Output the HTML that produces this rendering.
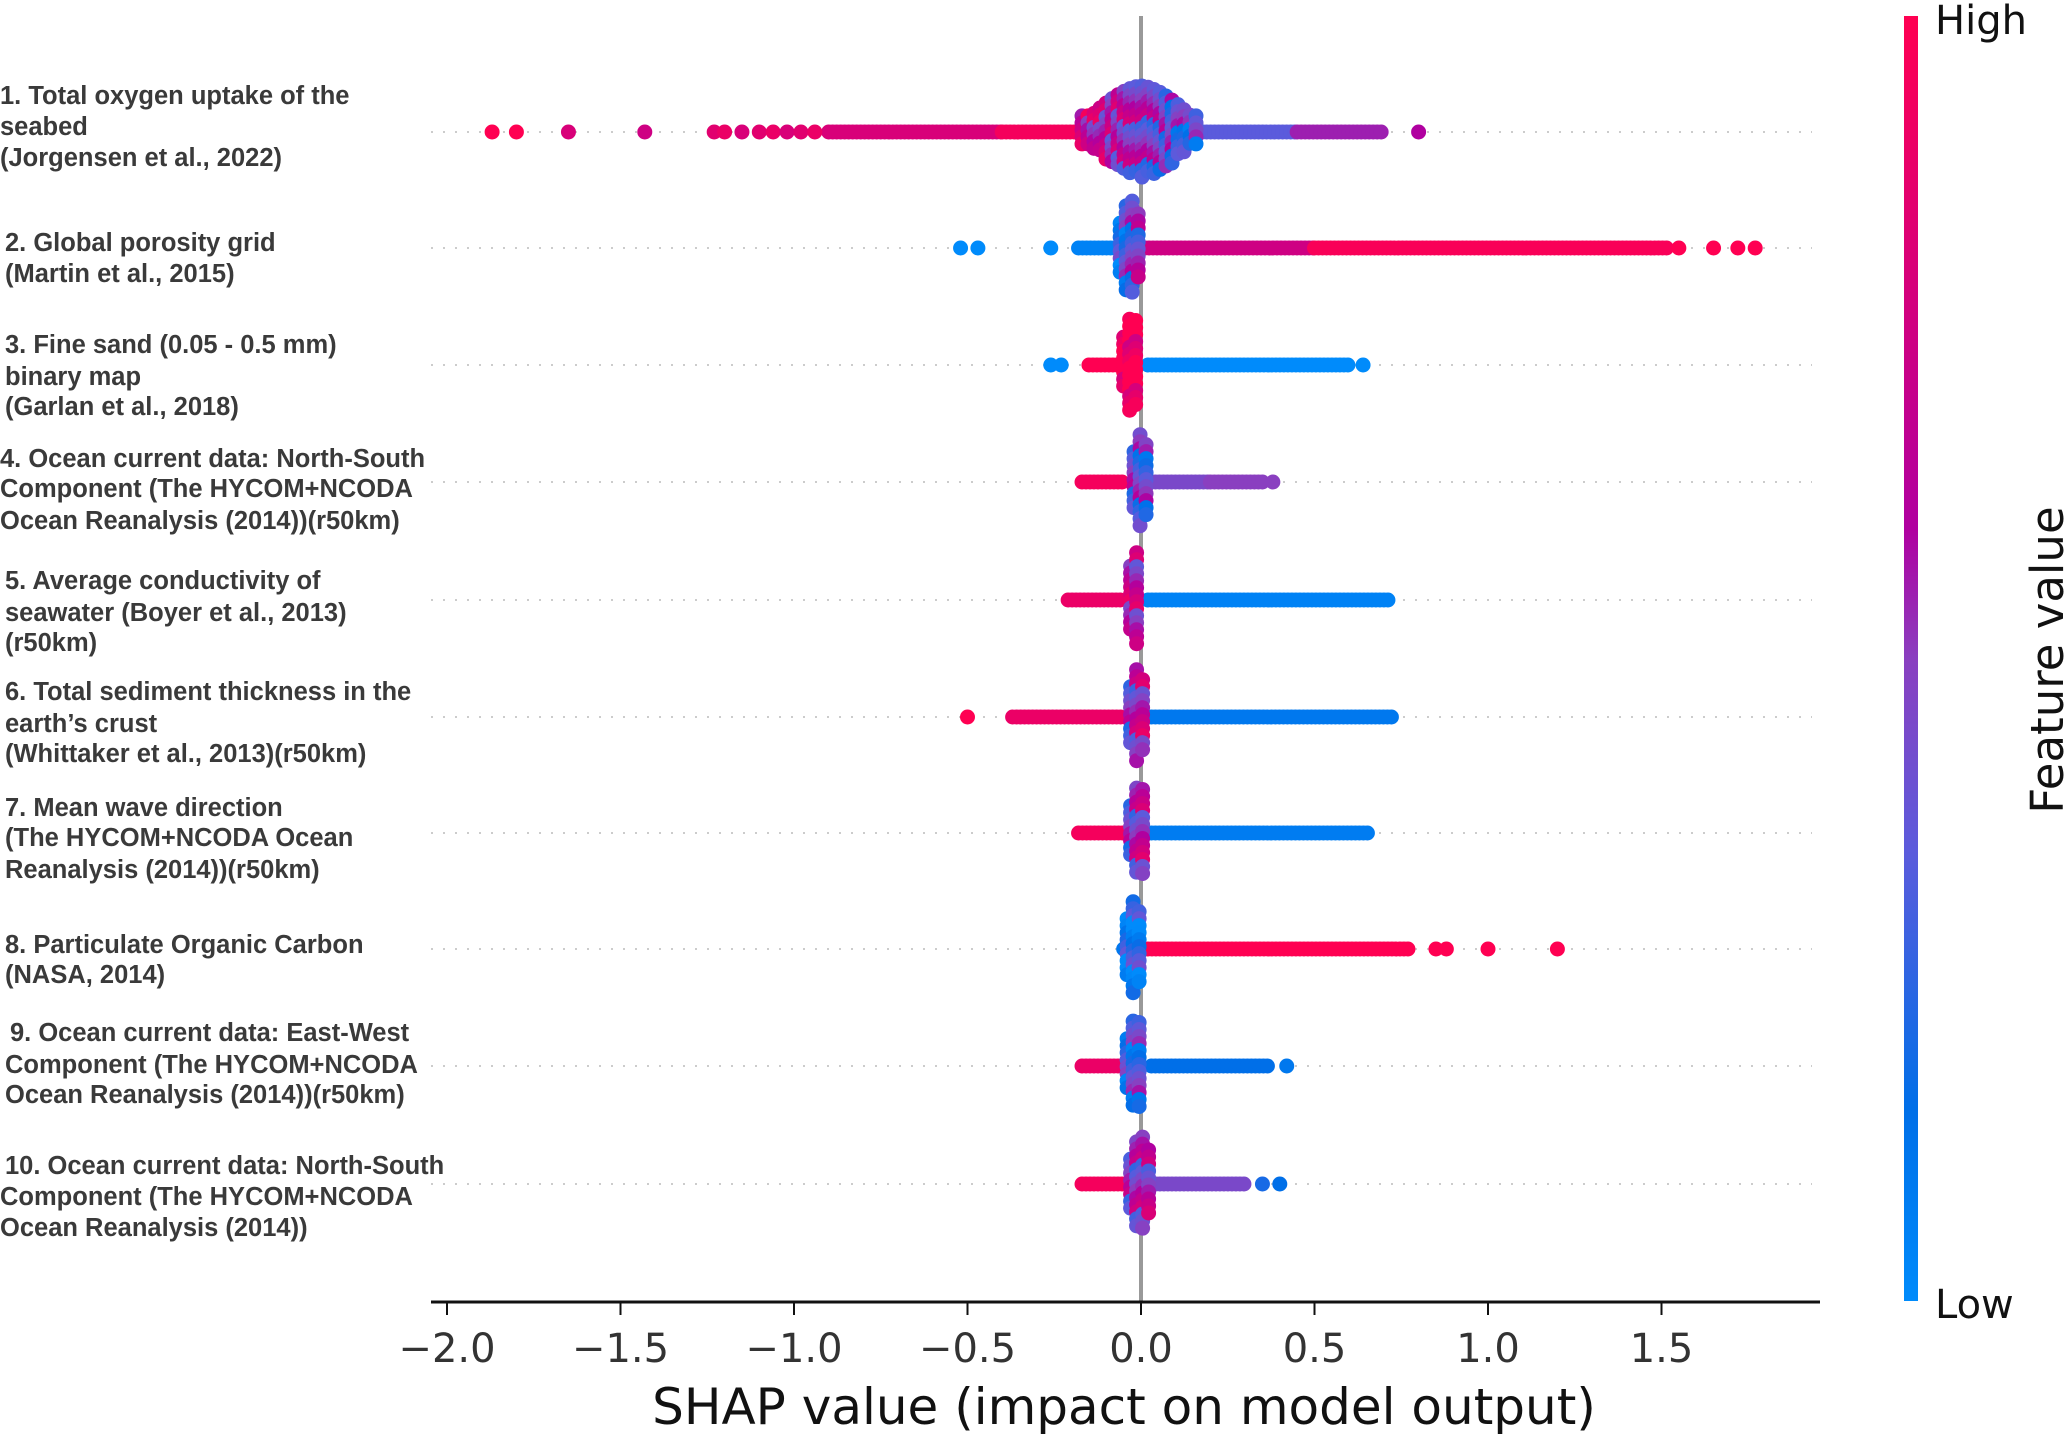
<!DOCTYPE html>
<html><head><meta charset="utf-8"><style>
html,body{margin:0;padding:0;background:#fff;}
svg{display:block;}
.lbl{font-family:"Liberation Sans",Arial,sans-serif;font-weight:bold;font-size:25.5px;fill:#3a3a3a;}
.tick{font-family:"DejaVu Sans",sans-serif;font-size:40px;fill:#333;}
</style></head><body>
<svg id="chart" width="2067" height="1434" viewBox="0 0 2067 1434" xmlns="http://www.w3.org/2000/svg">
<defs>
<linearGradient id="cbar" x1="0" y1="1" x2="0" y2="0">
<stop offset="0" stop-color="#008bfb"/><stop offset="0.15" stop-color="#006fe8"/>
<stop offset="0.35" stop-color="#5b5bdc"/><stop offset="0.5" stop-color="#8a3fc0"/>
<stop offset="0.6" stop-color="#b000a0"/><stop offset="1" stop-color="#ff0052"/>
</linearGradient>
</defs>
<g id="rowlines"></g>
<line x1="1141" y1="16" x2="1141" y2="1302" stroke="#999" stroke-width="4"/>
<g id="dots"></g>
<g id="labels">
<text class="lbl" x="0" y="104">1. Total oxygen uptake of the</text>
<text class="lbl" x="0" y="135">seabed</text>
<text class="lbl" x="0" y="166">(Jorgensen et al., 2022)</text>
<text class="lbl" x="5" y="251">2. Global porosity grid</text>
<text class="lbl" x="5" y="282">(Martin et al., 2015)</text>
<text class="lbl" x="5" y="353">3. Fine sand (0.05 - 0.5 mm)</text>
<text class="lbl" x="5" y="385">binary map</text>
<text class="lbl" x="5" y="415">(Garlan et al., 2018)</text>
<text class="lbl" x="0" y="467">4. Ocean current data: North-South</text>
<text class="lbl" x="0" y="497">Component (The HYCOM+NCODA</text>
<text class="lbl" x="0" y="529">Ocean Reanalysis (2014))(r50km)</text>
<text class="lbl" x="5" y="589">5. Average conductivity of</text>
<text class="lbl" x="5" y="621">seawater (Boyer et al., 2013)</text>
<text class="lbl" x="5" y="651">(r50km)</text>
<text class="lbl" x="5" y="700">6. Total sediment thickness in the</text>
<text class="lbl" x="5" y="732">earth’s crust</text>
<text class="lbl" x="5" y="762">(Whittaker et al., 2013)(r50km)</text>
<text class="lbl" x="5" y="816">7. Mean wave direction</text>
<text class="lbl" x="5" y="846">(The HYCOM+NCODA Ocean</text>
<text class="lbl" x="5" y="878">Reanalysis (2014))(r50km)</text>
<text class="lbl" x="5" y="953">8. Particulate Organic Carbon</text>
<text class="lbl" x="5" y="983">(NASA, 2014)</text>
<text class="lbl" x="10" y="1041">9. Ocean current data: East-West</text>
<text class="lbl" x="5" y="1073">Component (The HYCOM+NCODA</text>
<text class="lbl" x="5" y="1103">Ocean Reanalysis (2014))(r50km)</text>
<text class="lbl" x="5" y="1174">10. Ocean current data: North-South</text>
<text class="lbl" x="0" y="1205">Component (The HYCOM+NCODA</text>
<text class="lbl" x="0" y="1236">Ocean Reanalysis (2014))</text>
</g>
<line x1="431" y1="1302" x2="1820" y2="1302" stroke="#111" stroke-width="3"/>
<g id="xticks"></g>
<text x="1124" y="1424" text-anchor="middle" font-family="DejaVu Sans, sans-serif" font-size="50" fill="#111">SHAP value (impact on model output)</text>
<rect x="1904" y="16" width="14" height="1285" fill="url(#cbar)"/>
<text x="1935" y="34" font-family="DejaVu Sans, sans-serif" font-size="40" fill="#111">High</text>
<text x="1935" y="1318" font-family="DejaVu Sans, sans-serif" font-size="40" fill="#111">Low</text>
<text transform="translate(2063,660) rotate(-90)" text-anchor="middle" font-family="DejaVu Sans, sans-serif" font-size="45" fill="#111">Feature value</text>
</svg>
<script>
const tickValues = [-2.0,-1.5,-1.0,-0.5,0.0,0.5,1.0,1.5];
const tickLabels = ["\u22122.0","\u22121.5","\u22121.0","\u22120.5","0.0","0.5","1.0","1.5"];
const rowCenters = [132,248,365,482,600,717,833,949,1066,1184];
// runs: [startShap, endShap, featureValue]
const runs1 = [[-0.9,-0.4,0.8],[-0.4,-0.15,0.95],[0.12,0.45,0.35],[0.45,0.7,0.55]];
const runs2 = [[-0.18,-0.05,0.05],[0.0,0.5,0.75],[0.5,1.52,0.97]];
const runs3 = [[-0.15,-0.05,1.0],[0.02,0.6,0.0]];
const runs4 = [[-0.17,-0.05,0.95],[0.03,0.2,0.45],[0.2,0.36,0.5]];
const runs5 = [[-0.21,-0.05,0.9],[0.02,0.72,0.05]];
const runs6 = [[-0.37,-0.05,0.9],[0.03,0.73,0.1]];
const runs7 = [[-0.18,-0.05,0.95],[0.03,0.66,0.08]];
const runs8 = [[-0.05,0.0,0.1],[0.02,0.78,1.0]];
const runs9 = [[-0.17,-0.05,0.9],[0.03,0.37,0.15]];
const runs10 = [[-0.17,-0.05,0.95],[0.02,0.3,0.45]];
// points: [shap, featureValue]
const points1 = [[-1.87,1],[-1.80,1],[-1.65,0.8],[-1.43,0.75],[-1.23,0.85],[-1.20,0.9],[-1.15,0.8],[-1.10,0.85],[-1.06,0.9],[-1.02,0.8],[-0.98,0.85],[-0.94,0.9],[0.80,0.6]];
const points2 = [[-0.52,0.0],[-0.47,0.0],[-0.26,0.0],[1.55,1],[1.65,1],[1.72,1],[1.77,1]];
const points3 = [[-0.26,0.0],[-0.23,0.0],[0.64,0.0]];
const points4 = [[0.38,0.5]];
const points5 = [];
const points6 = [[-0.5,1]];
const points7 = [];
const points8 = [[0.85,1],[0.88,1],[1.0,1],[1.2,1]];
const points9 = [[0.42,0.1]];
const points10 = [[0.35,0.2],[0.40,0.15]];
// clusters near zero: [minShap, maxShap, halfHeightPx, colorA, colorB]
const clusters = [[-0.17,0.17,46,0.75,0.25],[-0.06,0.0,48,0.1,0.6],[-0.05,0.0,49,1.0,1.0],[-0.02,0.02,48,0.45,0.3],[-0.03,0.0,48,0.7,0.55],[-0.03,0.01,48,0.3,0.8],[-0.03,0.02,48,0.3,0.8],[-0.04,0.0,48,0.1,0.2],[-0.04,0.01,48,0.2,0.4],[-0.03,0.03,48,0.45,0.6]];
const allRuns=[runs1,runs2,runs3,runs4,runs5,runs6,runs7,runs8,runs9,runs10];
const allPoints=[points1,points2,points3,points4,points5,points6,points7,points8,points9,points10];

const NS="http://www.w3.org/2000/svg";
function xScale(v){return 1141+v*347;}
const stops=[[0,[0,139,251]],[0.15,[0,111,232]],[0.35,[91,91,220]],[0.5,[138,63,192]],[0.6,[176,0,160]],[1,[255,0,82]]];
function col(t){for(let i=1;i<stops.length;i++){if(t<=stops[i][0]){const a=stops[i-1],b=stops[i];const f=(t-a[0])/(b[0]-a[0]);return 'rgb('+a[1].map((c,k)=>Math.round(c+(b[1][k]-c)*f)).join(',')+')';}}return 'rgb(255,0,82)';}
const dots=document.getElementById('dots');
function dot(cx,cy,t,name){const c=document.createElementNS(NS,'circle');c.setAttribute('cx',cx);c.setAttribute('cy',cy);c.setAttribute('r',7.5);c.setAttribute('fill',col(t));


dots.appendChild(c);}
const rl=document.getElementById('rowlines');
rowCenters.forEach((y,i)=>{const l=document.createElementNS(NS,'line');l.setAttribute('x1',431);l.setAttribute('x2',1812);l.setAttribute('y1',y);l.setAttribute('y2',y);l.setAttribute('stroke','#ccc');l.setAttribute('stroke-width',2);l.setAttribute('stroke-dasharray','2 10');


rl.appendChild(l);});
rowCenters.forEach((y,i)=>{
  allRuns[i].forEach(r=>{const x0=xScale(r[0]),x1=xScale(r[1]);for(let x=x0;x<=x1;x+=4){dot(x,y,r[2],'shap-point');}});
  const c=clusters[i];const x0=xScale(c[0]),x1=xScale(c[1]);const mid=(x0+x1)/2,hw=(x1-x0)/2||1;
  let k=0;
  for(let x=x0;x<=x1+0.1;x+=6){const rel=(x-mid)/(hw+6);const f=1-Math.pow(Math.abs(rel),1.6);const h=c[2]*Math.max(0.35,f);
    for(let dy=-h;dy<=h;dy+=7){k++;const m=((k*7919)%13)/12;const base=c[3]+(c[4]-c[3])*((rel+1)/2);const t=Math.min(1,Math.max(0,base+(m-0.5)*0.5));dot(x,y+dy,t,'shap-point');}}
  allPoints[i].forEach(p=>dot(xScale(p[0]),y,p[1],'shap-point'));
});
const xt=document.getElementById('xticks');
tickValues.forEach((v,i)=>{const x=xScale(v);const l=document.createElementNS(NS,'line');l.setAttribute('x1',x);l.setAttribute('x2',x);l.setAttribute('y1',1302);l.setAttribute('y2',1315);l.setAttribute('stroke','#111');l.setAttribute('stroke-width',2);


xt.appendChild(l);
const t=document.createElementNS(NS,'text');t.setAttribute('x',x);t.setAttribute('y',1362);t.setAttribute('text-anchor','middle');t.setAttribute('class','tick');t.textContent=tickLabels[i];


xt.appendChild(t);});
</script>
</body></html>
